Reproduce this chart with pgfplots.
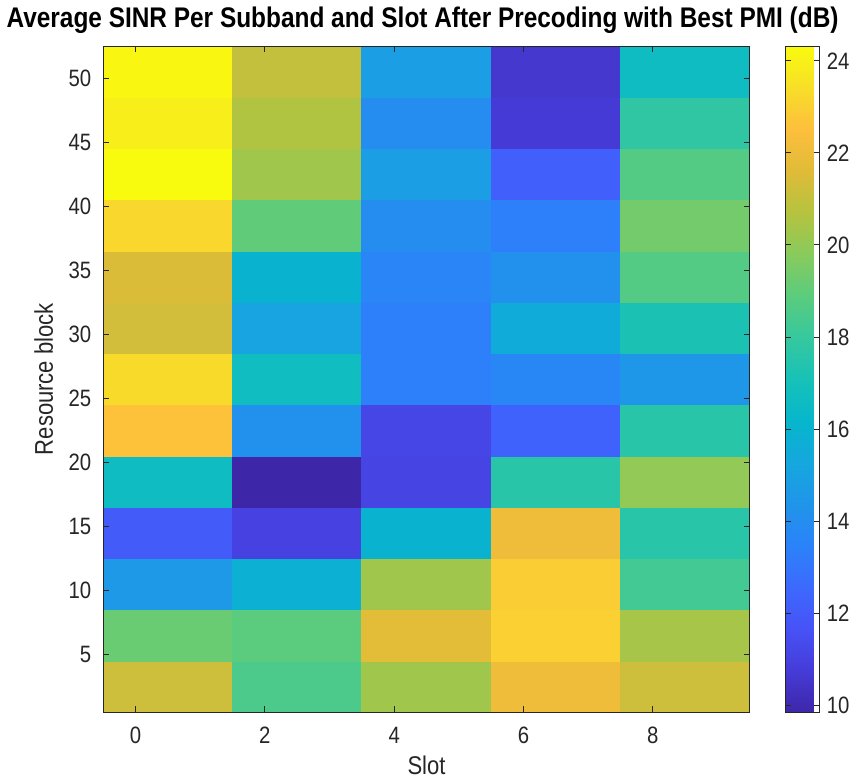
\documentclass[border=0pt]{standalone}
\usepackage{fontspec}
\setmainfont{Liberation Sans}[FakeStretch=0.86]
\usepackage{pgfplots}
\pgfplotsset{compat=1.18}

\definecolor{axgray}{rgb}{0.15,0.15,0.15}

% old-style parula, 17 evenly spaced samples
\pgfplotsset{
  colormap={parula}{
    rgb=(0.2422,0.1504,0.6603)
    rgb=(0.2720,0.2322,0.8449)
    rgb=(0.2791,0.3218,0.9661)
    rgb=(0.2384,0.4123,0.9948)
    rgb=(0.1707,0.5108,0.9761)
    rgb=(0.1241,0.5834,0.9176)
    rgb=(0.0830,0.6559,0.8678)
    rgb=(0.0241,0.7150,0.8007)
    rgb=(0.0891,0.7592,0.7180)
    rgb=(0.2129,0.7833,0.6191)
    rgb=(0.3553,0.8001,0.4918)
    rgb=(0.5349,0.7943,0.3612)
    rgb=(0.7103,0.7647,0.2483)
    rgb=(0.8790,0.7341,0.2165)
    rgb=(0.9940,0.7483,0.2369)
    rgb=(0.9706,0.8717,0.1589)
    rgb=(0.9763,0.9831,0.0538)
  },
}

% subband centres (4 RBs each) x slot pairs, SINR in dB
\pgfplotstableread{
x   y    c
0.5 2.5  21.2
2.5 2.5  18.5
4.5 2.5  20.3
6.5 2.5  22.1
8.5 2.5  21.2
0.5 6.5  19.2
2.5 6.5  18.9
4.5 6.5  21.7
6.5 6.5  23.0
8.5 6.5  20.4
0.5 10.5 14.6
2.5 10.5 15.8
4.5 10.5 20.3
6.5 10.5 22.9
8.5 10.5 18.3
0.5 14.5 12.0
2.5 14.5 11.0
4.5 14.5 16.0
6.5 14.5 22.1
8.5 14.5 17.6
0.5 18.5 16.6
2.5 18.5 9.85
4.5 18.5 11.1
6.5 18.5 17.6
8.5 18.5 20.0
0.5 22.5 22.6
2.5 22.5 14.2
4.5 22.5 11.2
6.5 22.5 12.3
8.5 22.5 17.6
0.5 26.5 23.3
2.5 26.5 16.7
4.5 26.5 13.4
6.5 26.5 13.7
8.5 26.5 14.5
0.5 30.5 21.3
2.5 30.5 15.1
4.5 30.5 13.4
6.5 30.5 15.5
8.5 30.5 17.2
0.5 34.5 21.5
2.5 34.5 16.0
4.5 34.5 13.6
6.5 34.5 14.2
8.5 34.5 18.7
0.5 38.5 23.2
2.5 38.5 19.0
4.5 38.5 14.0
6.5 38.5 13.4
8.5 38.5 19.4
0.5 42.5 24.32
2.5 42.5 20.3
4.5 42.5 14.8
6.5 42.5 12.2
8.5 42.5 18.7
0.5 46.5 23.9
2.5 46.5 20.6
4.5 46.5 14.0
6.5 46.5 10.7
8.5 46.5 17.8
0.5 50.5 24.2
2.5 50.5 21.0
4.5 50.5 14.8
6.5 50.5 10.6
8.5 50.5 16.6
}\sinr

\begin{document}
\begin{tikzpicture}
\begin{axis}[
    scale only axis,
    width=328pt, height=338pt,
    xmin=-0.5, xmax=9.5,
    ymin=0.5, ymax=52.5,
    xtick={0,2,4,6,8},
    ytick={5,10,15,20,25,30,35,40,45,50},
    tick align=inside,
    major tick length=3pt,
    axis line style={axgray, line width=0.5pt},
    every tick/.style={axgray, line width=0.5pt},
    tick label style={font=\fontsize{12}{14}\selectfont, text=axgray},
    xticklabel style={yshift=-4pt},
    yticklabel style={xshift=-2.5pt},
    /pgf/number format/assume math mode=true,
    xlabel={Slot},
    ylabel={Resource block},
    label style={font=\fontsize{13}{15}\selectfont, text=axgray},
    xlabel style={yshift=1pt},
    ylabel style={yshift=1pt},
    title={\bfseries Average SINR Per Subband and Slot After Precoding with Best PMI (dB)},
    title style={font=\fontsize{14.4}{16}\selectfont, yshift=-3pt, xshift=-2pt},
    colormap name=parula,
    point meta min=9.85, point meta max=24.32,
    colorbar,
    colorbar style={
        at={(parent axis.north east)},
        anchor=north west,
        xshift=9.5pt,
        width=17.5pt,
        ytick={10,12,14,16,18,20,22,24},
        tick align=inside,
        major tick length=3pt,
        axis line style={axgray, line width=0.5pt},
        every tick/.style={axgray, line width=0.5pt},
        tick label style={font=\fontsize{12}{14}\selectfont, text=axgray},
        /pgf/number format/assume math mode=true,
    },
    axis on top,
]
\addplot[matrix plot*, mesh/cols=5, point meta=explicit, shader=flat corner]
    table[x=x, y=y, meta=c] {\sinr};
\end{axis}
\end{tikzpicture}
\end{document}
